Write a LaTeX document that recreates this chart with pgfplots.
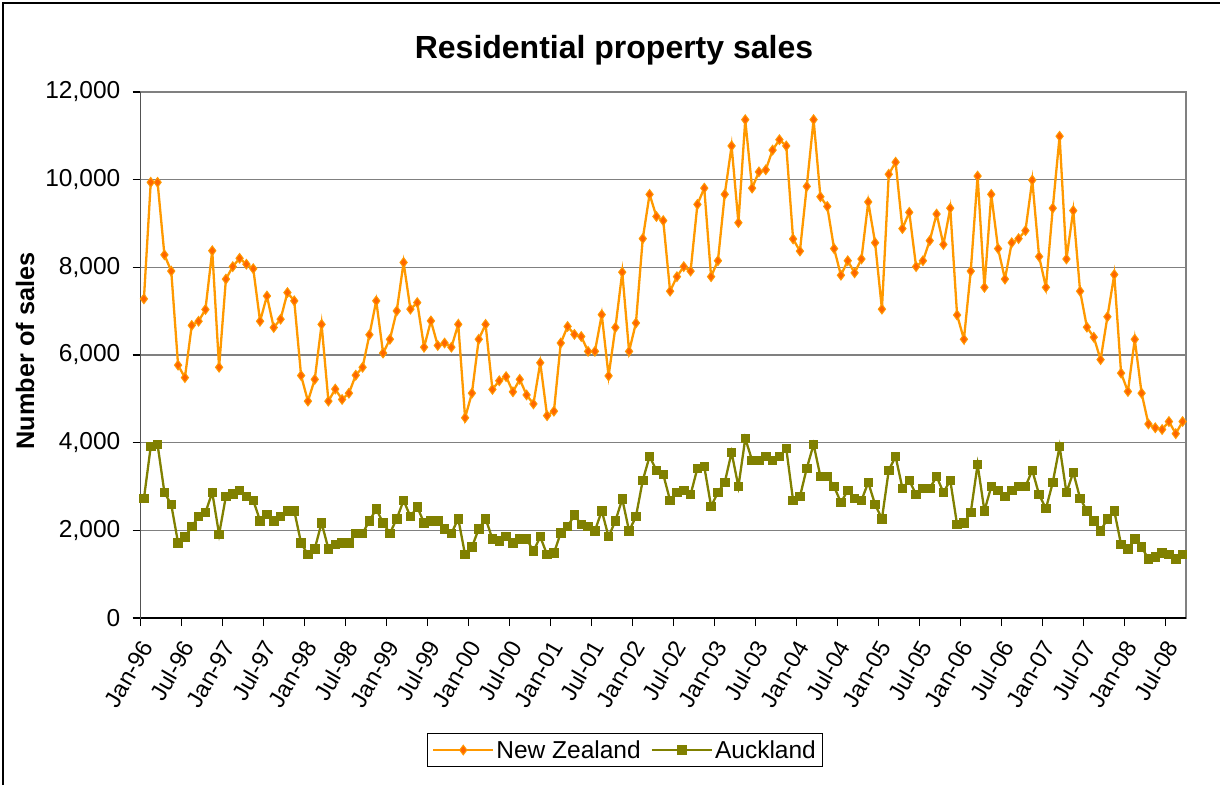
\documentclass[border=0pt]{standalone}
\usepackage{pgfplots}
\pgfplotsset{compat=1.18}
\usepackage{pgfplotstable}
\usepackage{fontspec}
\setmainfont{Liberation Sans}
\definecolor{nzline}{RGB}{255,153,0}
\definecolor{nzfill}{RGB}{255,102,0}
\definecolor{akl}{RGB}{128,128,0}
\definecolor{gridgray}{RGB}{128,128,128}

\pgfplotstableread{
i nz akl
0 7280 2722
1 9940 3913
2 9940 3953
3 8285 2864
4 7914 2588
5 5768 1712
6 5484 1846
7 6675 2083
8 6770 2312
9 7038 2406
10 8379 2864
11 5720 1909
12 7732 2777
13 8016 2825
14 8206 2911
15 8071 2777
16 7969 2683
17 6770 2217
18 7346 2359
19 6628 2217
20 6817 2312
21 7424 2446
22 7235 2446
23 5531 1712
24 4947 1444
25 5444 1578
26 6699 2170
27 4947 1578
28 5223 1681
29 4986 1712
30 5129 1712
31 5539 1933
32 5720 1933
33 6462 2217
34 7235 2485
35 6044 2170
36 6359 1933
37 7006 2264
38 8111 2683
39 7046 2312
40 7196 2533
41 6178 2170
42 6778 2217
43 6217 2217
44 6273 2036
45 6178 1933
46 6699 2264
47 4568 1444
48 5129 1617
49 6359 2036
50 6699 2264
51 5215 1807
52 5413 1759
53 5507 1854
54 5160 1712
55 5444 1807
56 5089 1807
57 4884 1523
58 5823 1854
59 4616 1444
60 4718 1483
61 6273 1941
62 6651 2083
63 6470 2351
64 6422 2130
65 6083 2083
66 6083 1988
67 6920 2446
68 5523 1854
69 6628 2217
70 7890 2714
71 6083 1988
72 6730 2312
73 8655 3140
74 9665 3685
75 9160 3369
76 9066 3274
77 7456 2683
78 7787 2864
79 8016 2911
80 7914 2817
81 9436 3416
82 9807 3456
83 7787 2548
84 8150 2864
85 9665 3093
86 10770 3779
87 9018 2998
88 11369 4095
89 9807 3598
90 10178 3598
91 10225 3685
92 10675 3598
93 10912 3685
94 10770 3866
95 8647 2683
96 8371 2769
97 9847 3416
98 11369 3961
99 9610 3227
100 9389 3227
101 8427 2998
102 7819 2635
103 8150 2911
104 7874 2730
105 8190 2683
106 9492 3093
107 8561 2588
108 7046 2264
109 10123 3369
110 10399 3685
111 8884 2959
112 9255 3140
113 8016 2817
114 8150 2959
115 8608 2959
116 9216 3227
117 8521 2864
118 9350 3140
119 6912 2130
120 6359 2170
121 7914 2406
122 10083 3503
123 7543 2446
124 9665 2998
125 8427 2911
126 7732 2769
127 8561 2911
128 8655 2998
129 8837 2998
130 9989 3369
131 8245 2817
132 7543 2493
133 9350 3093
134 10991 3913
135 8190 2864
136 9294 3322
137 7456 2730
138 6635 2446
139 6407 2217
140 5894 1988
141 6872 2264
142 7835 2446
143 5586 1673
144 5168 1578
145 6359 1807
146 5129 1617
147 4426 1349
148 4340 1397
149 4300 1483
150 4482 1444
151 4205 1349
152 4482 1444
}\salesdata

\begin{document}
\begin{tikzpicture}[x=1pt,y=1pt]
\path[use as bounding box] (0,0) rectangle (1220,785);
\draw[black, line width=1.2pt] (3,0) -- (3,782) -- (1220,782);
\begin{axis}[
  at={(140.5pt,167pt)}, anchor=south west,
  scale only axis, width=1045.5pt, height=526pt,
  xmin=0, xmax=153, ymin=0, ymax=12000,
  axis line style={gridgray, line width=1.2pt},
  ytick={0,2000,...,12000},
  scaled y ticks=false,
  /pgf/number format/.cd, 1000 sep={,}, assume math mode=true, /pgfplots/.cd,
  ymajorgrids, grid style={gridgray, line width=1.5pt},
  xtick={0,6,...,150},
  xticklabels={Jan-96,Jul-96,Jan-97,Jul-97,Jan-98,Jul-98,Jan-99,Jul-99,Jan-00,Jul-00,Jan-01,Jul-01,Jan-02,Jul-02,Jan-03,Jul-03,Jan-04,Jul-04,Jan-05,Jul-05,Jan-06,Jul-06,Jan-07,Jul-07,Jan-08,Jul-08},
  tick align=outside, major tick length=8pt,
  tick style={black, line width=1.2pt},
  xtick pos=bottom, ytick pos=left,
  yticklabel style={font=\fontsize{24.5}{28}\selectfont, anchor=east, inner sep=0pt, xshift=-12pt},
  xticklabel style={font=\fontsize{23.5}{27}\selectfont, inner sep=1pt, xshift=7pt, yshift=-16pt, rotate=60, anchor=east},
  legend style={at={(0.4634,-0.251)}, anchor=center, draw=black, line width=1.2pt,
    font=\fontsize{24.5}{28}\selectfont, legend columns=2,
    /tikz/every even column/.append style={column sep=8pt},
    inner sep=5pt},
  legend cell align=left,
  legend image code/.code={\draw[mark repeat=2,mark phase=2] plot coordinates {(0pt,0pt) (30pt,0pt) (60pt,0pt)};},
]
\addplot[nzline, line width=2.3pt, mark=diamond*, mark size=4.8pt,
  mark options={draw=nzline, fill=nzfill, line width=1pt, solid}]
  table[x expr=\thisrow{i}+0.5, y=nz] {\salesdata};
\addlegendentry{New Zealand}
\addplot[akl, line width=2.3pt, mark=square*, mark size=3.6pt,
  mark options={draw=akl, fill=akl, solid}]
  table[x expr=\thisrow{i}+0.5, y=akl] {\salesdata};
\addlegendentry{Auckland}
\draw[black, line width=1.5pt] (rel axis cs:0,1) -- (rel axis cs:0,0) -- (rel axis cs:1,0);
\end{axis}
\node[font=\bfseries\fontsize{32}{36}\selectfont] at (614,735) {Residential property sales};
\node[font=\bfseries\fontsize{25.3}{30}\selectfont, rotate=90] at (25,434) {Number of sales};
\end{tikzpicture}
\end{document}
